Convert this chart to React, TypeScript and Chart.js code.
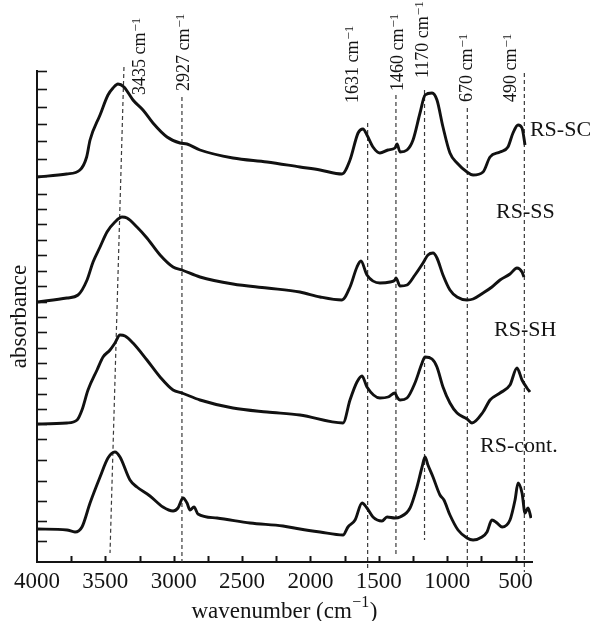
import React, { useEffect, useRef } from 'react';
import { Chart, registerables } from 'chart.js';

Chart.register(...registerables);

const FONT = '"Liberation Serif", "Times New Roman", Times, serif';

// ---- Spectra (wavenumber in cm-1, absorbance in arbitrary stacked units) ----
const seriesNames = ['RS-SC', 'RS-SS', 'RS-SH', 'RS-cont.'];

const rsScWave = [4000, 3783, 3686, 3637, 3612, 3539, 3481, 3444, 3408, 3364, 3298, 3225, 3152, 3049, 2954, 2903, 2808, 2567, 2318, 2077, 1930, 1770, 1711, 1652, 1616, 1587, 1543, 1492, 1433, 1382, 1367, 1345, 1294, 1250, 1199, 1162, 1111, 1075, 1031, 980, 928, 855, 811, 738, 687, 614, 556, 519, 482, 453, 431];
const rsScAbs = [385, 388, 392, 405, 422, 447, 467, 474, 478, 475, 462, 452, 439, 425, 419, 418, 412, 404, 400, 395, 392, 388, 402, 429, 433, 427, 415, 409, 412, 414, 418, 410, 412, 422, 449, 467, 469, 462, 435, 409, 399, 390, 387, 390, 405, 410, 415, 429, 437, 434, 417];

const rsSsWave = [4000, 3781, 3700, 3634, 3590, 3539, 3488, 3430, 3378, 3342, 3269, 3196, 3100, 3005, 2940, 2808, 2567, 2318, 2077, 1930, 1770, 1711, 1660, 1631, 1587, 1492, 1418, 1382, 1375, 1345, 1294, 1236, 1177, 1141, 1104, 1075, 1031, 980, 928, 855, 811, 738, 673, 614, 541, 490, 453, 439];
const rsSsAbs = [260, 264, 267, 282, 300, 315, 330, 340, 345, 344, 335, 324, 307, 295, 292, 285, 278, 274, 270, 265, 262, 275, 295, 301, 287, 279, 280, 282, 284, 276, 277, 287, 299, 307, 309, 304, 287, 272, 265, 262, 263, 269, 275, 282, 288, 294, 290, 285];

const rsShWave = [4000, 3781, 3707, 3671, 3627, 3561, 3517, 3466, 3430, 3393, 3356, 3298, 3196, 3100, 3005, 2940, 2808, 2567, 2318, 2077, 1762, 1711, 1660, 1623, 1587, 1492, 1433, 1382, 1367, 1345, 1294, 1236, 1184, 1162, 1111, 1075, 1031, 980, 928, 855, 819, 738, 687, 614, 541, 490, 453, 417, 395];
const rsShAbs = [138, 139, 142, 152, 172, 192, 205, 212, 219, 227, 226, 219, 202, 185, 172, 169, 162, 154, 150, 147, 139, 162, 180, 186, 175, 164, 165, 169, 165, 162, 164, 179, 199, 205, 203, 195, 175, 159, 149, 143, 139, 150, 162, 169, 177, 194, 182, 174, 170];

const rsContWave = [4000, 3781, 3722, 3671, 3612, 3539, 3481, 3430, 3393, 3320, 3269, 3174, 3079, 3005, 2969, 2932, 2903, 2881, 2852, 2823, 2684, 2442, 2201, 2077, 1930, 1762, 1726, 1674, 1623, 1587, 1543, 1477, 1440, 1382, 1345, 1272, 1221, 1184, 1162, 1141, 1104, 1053, 1024, 980, 921, 855, 811, 746, 709, 673, 636, 599, 541, 504, 482, 453, 431, 409, 387];
const rsContAbs = [33, 32, 30, 35, 59, 85, 104, 110, 105, 82, 75, 66, 55, 51, 54, 64, 59, 52, 55, 48, 44, 39, 36, 33, 30, 27, 35, 42, 59, 54, 45, 41, 45, 44, 45, 54, 75, 95, 105, 97, 85, 67, 62, 47, 32, 24, 22, 25, 30, 42, 39, 35, 42, 62, 79, 69, 49, 54, 44];

const seriesWave = [rsScWave, rsSsWave, rsShWave, rsContWave];
const seriesAbs = [rsScAbs, rsSsAbs, rsShAbs, rsContAbs];

// series name anchors (wavenumber of left edge, absorbance of text middle)
const nameWave = [395, 643, 658, 760];
const nameAbs = [432, 350, 232, 116];

// ---- Band markers ----
const peakLabels = ['3435', '2927', '1631', '1460', '1170', '670', '490'];
const markerWaveTop = [3364, 2940, 1582, 1375, 1166, 853, 436];
const markerWaveBottom = [3466, 2940, 1582, 1375, 1166, 853, 436];
const markerAbsTop = [495, 465, 439, 467, 472, 454, 489];
const markerAbsBottom = [9, 0, -6, 7, 22, -6, -10];
const peakLabelWave = [3254, 2932, 1696, 1367, 1184, 863, 541];
const peakLabelAbs = [467, 471, 459, 471, 484, 460, 460];

// ---- Axes ----
const xTickValues = [4000, 3750, 3500, 3250, 3000, 2750, 2500, 2250, 2000, 1750, 1500, 1250, 1000, 750, 500];
const yTickValues = [491, 473, 455, 438, 421, 403, 386, 368, 353, 338, 322, 307, 291, 276, 260, 245, 230, 214, 199, 184, 168, 153, 138, 123, 102, 81, 61, 41, 21];
const xTitle = 'wavenumber (cm';
const yTitle = 'absorbance';

export default function App() {
  const ref = useRef<HTMLCanvasElement>(null);

  useEffect(() => {
    const canvas = ref.current;
    if (!canvas) return;

    const datasets = seriesNames.map((name, i) => ({
      label: name,
      data: seriesWave[i].map((x, j) => ({ x, y: seriesAbs[i][j] })),
      borderColor: '#111111',
      borderWidth: 2.9,
      pointRadius: 0,
      fill: false,
      cubicInterpolationMode: 'monotone' as const,
    }));

    const overlay = {
      id: 'overlay',
      beforeDatasetsDraw(chart: any) {
        const ctx = chart.ctx;
        const xs = chart.scales.x;
        const ys = chart.scales.y;
        ctx.save();
        ctx.strokeStyle = '#3a3a3a';
        ctx.lineWidth = 1.2;
        ctx.setLineDash([4, 3]);
        for (let i = 0; i < peakLabels.length; i++) {
          ctx.beginPath();
          ctx.moveTo(xs.getPixelForValue(markerWaveTop[i]), ys.getPixelForValue(markerAbsTop[i]));
          ctx.lineTo(xs.getPixelForValue(markerWaveBottom[i]), ys.getPixelForValue(markerAbsBottom[i]));
          ctx.stroke();
        }
        ctx.restore();
      },
      afterDraw(chart: any) {
        const ctx = chart.ctx;
        const xs = chart.scales.x;
        const ys = chart.scales.y;
        const area = chart.chartArea;
        ctx.save();
        ctx.strokeStyle = '#141414';
        ctx.fillStyle = '#141414';
        // tick marks (inside)
        ctx.lineWidth = 2;
        for (const v of xTickValues) {
          if (v === 4000) continue;
          const px = Math.round(xs.getPixelForValue(v)) + 0.5;
          ctx.beginPath();
          ctx.moveTo(px, area.bottom);
          ctx.lineTo(px, area.bottom - 6);
          ctx.stroke();
        }
        ctx.lineWidth = 1.6;
        for (const v of yTickValues) {
          const py = Math.round(ys.getPixelForValue(v)) + 0.5;
          ctx.beginPath();
          ctx.moveTo(area.left, py);
          ctx.lineTo(area.left + 10, py);
          ctx.stroke();
        }
        // peak labels (rotated)
        for (let i = 0; i < peakLabels.length; i++) {
          const x = xs.getPixelForValue(peakLabelWave[i]);
          const y = ys.getPixelForValue(peakLabelAbs[i]);
          ctx.save();
          ctx.translate(x, y);
          ctx.rotate(-Math.PI / 2);
          ctx.textAlign = 'left';
          ctx.textBaseline = 'alphabetic';
          ctx.font = `18px ${FONT}`;
          const main = `${peakLabels[i]} cm`;
          ctx.fillText(main, 0, 6);
          const w = ctx.measureText(main).width;
          ctx.font = `13px ${FONT}`;
          ctx.fillText('\u22121', w + 1, 1);
          ctx.restore();
        }
        // series names
        ctx.font = `22px ${FONT}`;
        ctx.textAlign = 'left';
        ctx.textBaseline = 'middle';
        for (let i = 0; i < seriesNames.length; i++) {
          ctx.fillText(seriesNames[i], xs.getPixelForValue(nameWave[i]), ys.getPixelForValue(nameAbs[i]));
        }
        // y title
        ctx.save();
        ctx.translate(26, (area.top + area.bottom) / 2);
        ctx.rotate(-Math.PI / 2);
        ctx.font = `23px ${FONT}`;
        ctx.textAlign = 'center';
        ctx.textBaseline = 'alphabetic';
        ctx.fillText(yTitle, 0, 0);
        ctx.restore();
        // x title with superscript
        ctx.textBaseline = 'alphabetic';
        ctx.textAlign = 'left';
        ctx.font = `23px ${FONT}`;
        const w1 = ctx.measureText(xTitle).width;
        const w3 = ctx.measureText(')').width;
        ctx.font = `16px ${FONT}`;
        const w2 = ctx.measureText('\u22121').width;
        const total = w1 + w2 + w3 + 1;
        const sx = (area.left + area.right) / 2 - total / 2;
        const base = 618;
        ctx.font = `23px ${FONT}`;
        ctx.fillText(xTitle, sx, base);
        ctx.font = `16px ${FONT}`;
        ctx.fillText('\u22121', sx + w1 + 0.5, base - 11);
        ctx.font = `23px ${FONT}`;
        ctx.fillText(')', sx + w1 + w2 + 1, base);
        ctx.restore();
      },
    };

    const chart = new Chart(canvas, {
      type: 'line',
      data: { datasets },
      options: {
        responsive: false,
        animation: false,
        devicePixelRatio: 1,
        layout: { padding: { top: 71, right: 66, left: 0, bottom: 0 } },
        plugins: { legend: { display: false }, tooltip: { enabled: false } },
        scales: {
          x: {
            type: 'linear',
            position: 'bottom',
            reverse: true,
            min: 380,
            max: 4000,
            afterFit: (s: any) => {
              s.height = 59;
            },
            afterBuildTicks: (s: any) => {
              s.ticks = xTickValues.map((v) => ({ value: v }));
            },
            grid: { display: false, drawTicks: false },
            border: { display: true, color: '#141414', width: 2 },
            ticks: {
              autoSkip: false,
              maxRotation: 0,
              padding: 6,
              color: '#141414',
              font: { family: FONT, size: 23 },
              callback: (v: any) => (Number(v) % 500 === 0 ? String(v) : ''),
            },
          },
          y: {
            type: 'linear',
            min: 0,
            max: 491,
            afterFit: (s: any) => {
              s.width = 37;
            },
            grid: { display: false, drawTicks: false },
            border: { display: true, color: '#141414', width: 2 },
            ticks: { display: false },
          },
        },
      },
      plugins: [overlay],
    });

    return () => chart.destroy();
  }, []);

  return (
    <div style={{ position: 'fixed', left: 0, top: 0, width: 598, height: 621, background: '#fff' }}>
      <canvas ref={ref} width={598} height={621} style={{ display: 'block', width: 598, height: 621 }} />
    </div>
  );
}
